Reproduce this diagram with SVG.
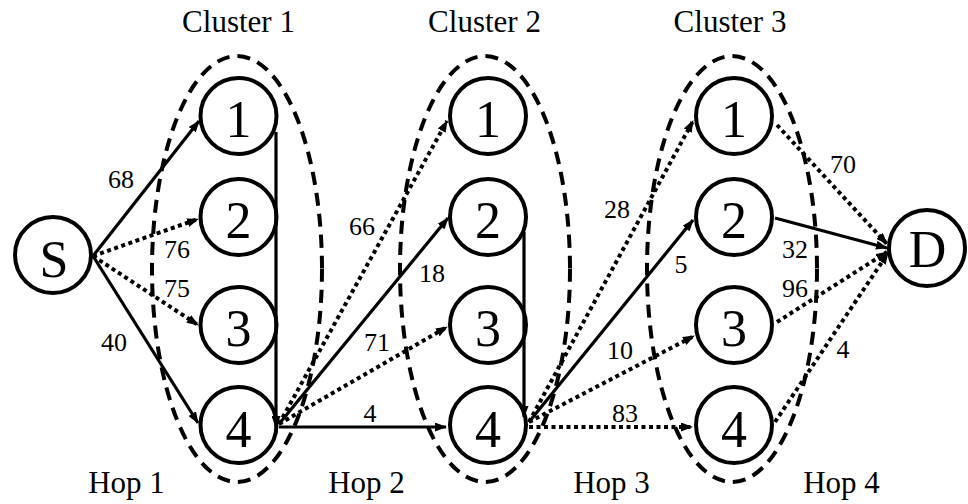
<svg xmlns="http://www.w3.org/2000/svg" width="968" height="504" viewBox="0 0 968 504" font-family="'Liberation Serif', 'DejaVu Serif', serif">
<defs>
<marker id="ah" markerUnits="userSpaceOnUse" viewBox="0 0 12 9" refX="11" refY="4.5" markerWidth="12" markerHeight="9" orient="auto">
<path d="M0,0 L12,4.5 L0,9 z" fill="#000"/>
</marker>
</defs>
<style>
.title{font-size:31px;text-anchor:middle}
.num{font-size:52px;text-anchor:middle}
.lbl{font-size:26px;text-anchor:middle}
.node circle{fill:#fff;stroke:#000;stroke-width:4}
.cluster{fill:none;stroke:#000;stroke-width:4;stroke-dasharray:13 8}
.solid{fill:none;stroke:#000;stroke-width:3.2;marker-end:url(#ah)}
.dot{fill:none;stroke:#000;stroke-width:4;stroke-dasharray:4 3.5;marker-end:url(#ah)}
</style>
<rect width="968" height="504" fill="#fff"/>

<g id="clusters">
<ellipse class="cluster" cx="237" cy="269" rx="85" ry="213"/>
<ellipse class="cluster" cx="485" cy="269" rx="85" ry="213"/>
<ellipse class="cluster" cx="732" cy="269" rx="85" ry="213"/>
<text class="title" x="238.5" y="32" font-family="Liberation Serif">Cluster 1</text>
<text class="title" x="484.5" y="32" font-family="Liberation Serif">Cluster 2</text>
<text class="title" x="730" y="32" font-family="Liberation Serif">Cluster 3</text>
<text class="title" x="126.5" y="493" font-family="Liberation Serif">Hop 1</text>
<text class="title" x="366.5" y="493" font-family="Liberation Serif">Hop 2</text>
<text class="title" x="611.5" y="493" font-family="Liberation Serif">Hop 3</text>
<text class="title" x="841.5" y="493" font-family="Liberation Serif">Hop 4</text>
</g>

<g id="nodeS" class="node"><circle cx="53" cy="255" r="38"/><text class="num" x="54" y="277">S</text></g>
<g id="nodeD" class="node"><circle cx="927" cy="248" r="38"/><text class="num" x="927.5" y="267">D</text></g>

<g id="c1n1" class="node"><circle cx="238.5" cy="116" r="38"/><text class="num" x="238.5" y="137">1</text></g>
<g id="c1n2" class="node"><circle cx="238.5" cy="217" r="38"/><text class="num" x="238.5" y="238">2</text></g>
<g id="c1n3" class="node"><circle cx="238.5" cy="325" r="38"/><text class="num" x="238.5" y="346">3</text></g>
<g id="c1n4" class="node"><circle cx="238.5" cy="425" r="38"/><text class="num" x="238.5" y="447">4</text></g>

<g id="c2n1" class="node"><circle cx="488" cy="116" r="38"/><text class="num" x="488" y="137">1</text></g>
<g id="c2n2" class="node"><circle cx="488" cy="217" r="38"/><text class="num" x="488" y="238">2</text></g>
<g id="c2n3" class="node"><circle cx="488" cy="325" r="38"/><text class="num" x="488" y="346">3</text></g>
<g id="c2n4" class="node"><circle cx="488" cy="425" r="38"/><text class="num" x="488" y="447">4</text></g>

<g id="c3n1" class="node"><circle cx="734" cy="116" r="38"/><text class="num" x="734" y="137">1</text></g>
<g id="c3n2" class="node"><circle cx="734" cy="217" r="38"/><text class="num" x="734" y="238">2</text></g>
<g id="c3n3" class="node"><circle cx="734" cy="325" r="38"/><text class="num" x="734" y="346">3</text></g>
<g id="c3n4" class="node"><circle cx="734" cy="425" r="38"/><text class="num" x="734" y="447">4</text></g>

<g id="connectors">
<line class="solid" x1="93" y1="256" x2="199" y2="121"/>
<line class="dot" x1="93" y1="256" x2="198" y2="219"/>
<line class="dot" x1="93" y1="256" x2="198" y2="325"/>
<line class="solid" x1="93" y1="256" x2="198" y2="423"/>
<line class="solid" x1="276" y1="132" x2="276" y2="427"/>

<line class="dot" x1="279" y1="424" x2="447" y2="121"/>
<line class="solid" x1="279" y1="424" x2="448" y2="218"/>
<line class="dot" x1="279" y1="424" x2="447" y2="327"/>
<line class="solid" x1="279" y1="427" x2="446" y2="427"/>
<line class="solid" x1="524" y1="232" x2="524" y2="417"/>

<line class="dot" x1="529" y1="422" x2="693" y2="121"/>
<line class="solid" x1="529" y1="422" x2="693" y2="220"/>
<line class="dot" x1="529" y1="422" x2="694" y2="336"/>
<line class="dot" x1="529" y1="427" x2="692" y2="427"/>

<line class="dot" x1="777" y1="125" x2="887" y2="244"/>
<line class="solid" x1="775" y1="218" x2="887" y2="248"/>
<line class="dot" x1="777" y1="322" x2="887" y2="252"/>
<line class="dot" x1="775" y1="422" x2="888" y2="253"/>

<text class="lbl" x="121" y="188">68</text>
<text class="lbl" x="177" y="258">76</text>
<text class="lbl" x="177" y="297">75</text>
<text class="lbl" x="114" y="351">40</text>
<text class="lbl" x="362" y="235">66</text>
<text class="lbl" x="432" y="282">18</text>
<text class="lbl" x="377" y="351">71</text>
<text class="lbl" x="370" y="422">4</text>
<text class="lbl" x="617" y="218">28</text>
<text class="lbl" x="681" y="273">5</text>
<text class="lbl" x="620" y="359">10</text>
<text class="lbl" x="625" y="422">83</text>
<text class="lbl" x="843" y="173">70</text>
<text class="lbl" x="795" y="258">32</text>
<text class="lbl" x="795" y="297">96</text>
<text class="lbl" x="843" y="358">4</text>
</g>
</svg>
